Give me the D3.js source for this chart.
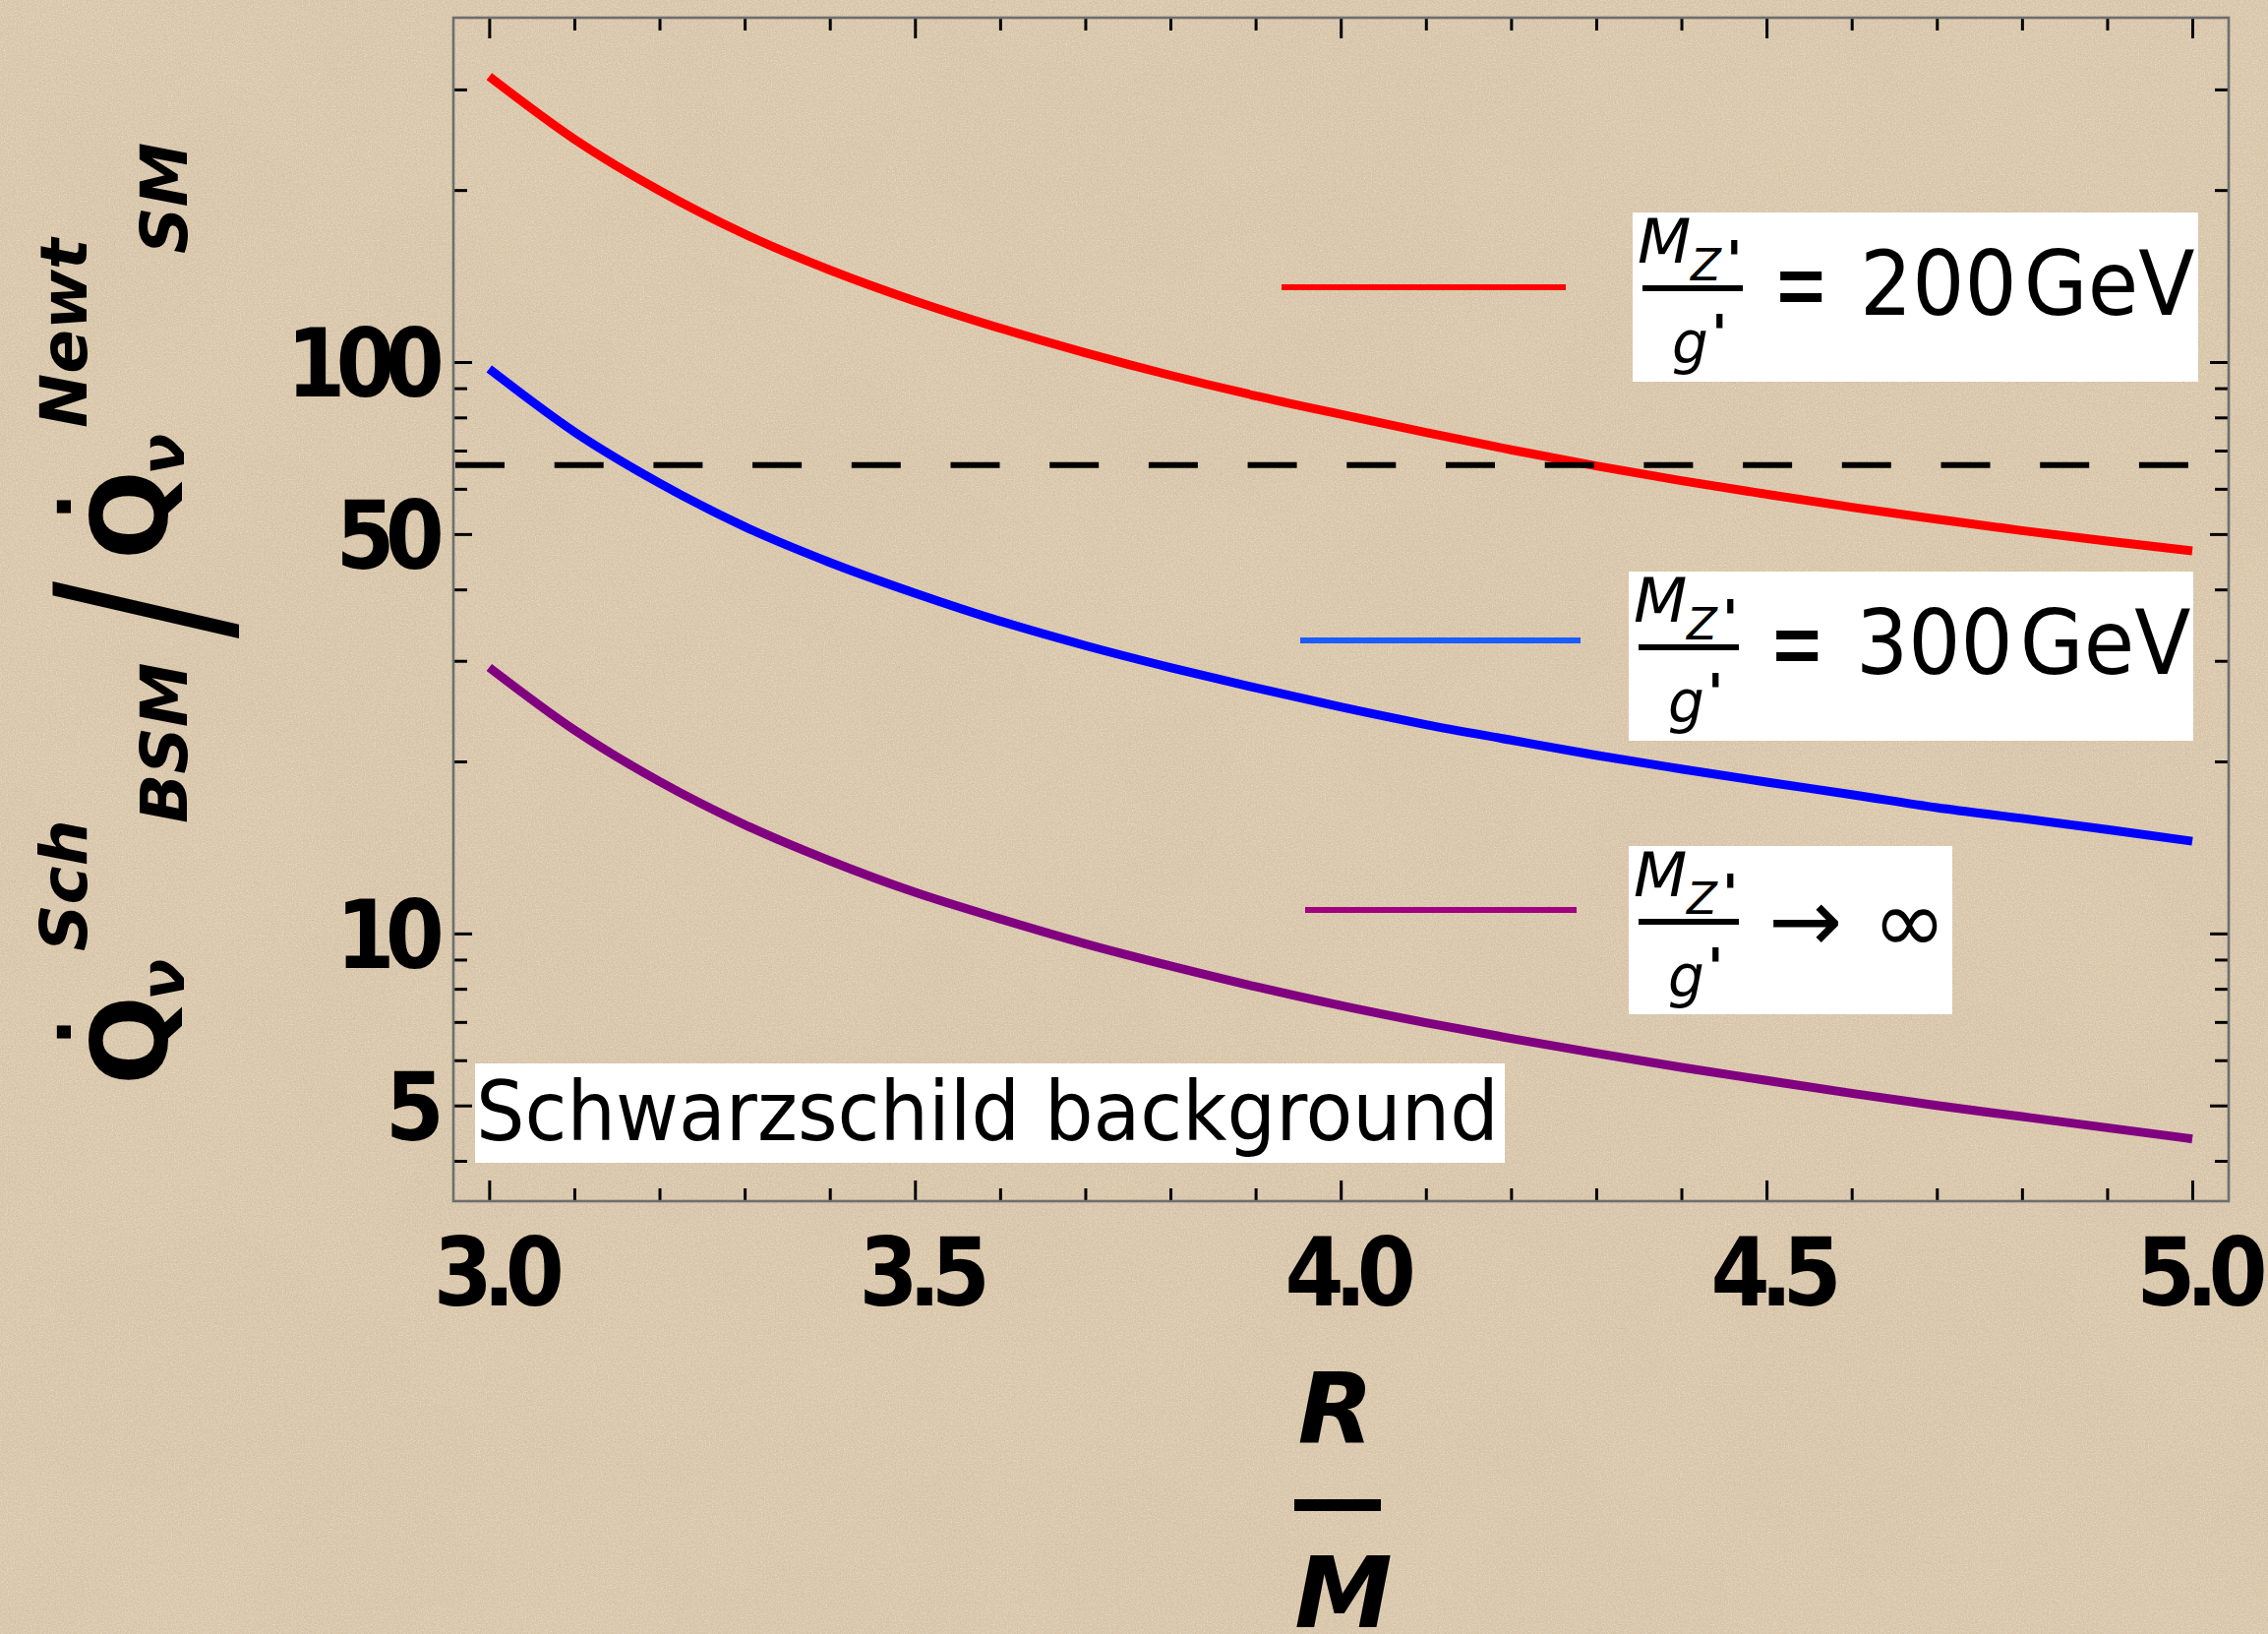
<!DOCTYPE html>
<html>
<head>
<meta charset="utf-8">
<script src="https://cdn.jsdelivr.net/npm/d3@7"></script>
<style>
  html, body { margin: 0; padding: 0; background: #dac7ab; }
  svg { display: block; }
  text { font-family: "DejaVu Sans", sans-serif; fill: #000; }
</style>
</head>
<body>
<svg id="chart" width="2306" height="1661"></svg>
<script>
// ---- data: luminosity ratio vs compactness R/M (Schwarzschild background) ----
const rOverM = [3.0, 3.1, 3.2, 3.3, 3.4, 3.5, 3.6, 3.7, 3.8, 3.9, 4.0,
                4.1, 4.2, 4.3, 4.4, 4.5, 4.6, 4.7, 4.8, 4.9, 5.0];
const ratio200GeV = [316, 245.5, 199.5, 167.5, 144.9, 127.9, 114.6, 103.8, 94.8, 87.3, 81.0,
                     75.3, 70.2, 65.8, 62.0, 58.7, 55.7, 53.1, 50.7, 48.6, 46.7];
const ratio300GeV = [97.3, 75.5, 61.4, 51.5, 44.6, 39.4, 35.2, 31.9, 29.2, 26.9, 24.9,
                     23.2, 21.8, 20.5, 19.4, 18.4, 17.5, 16.6, 15.9, 15.2, 14.5];
const ratioInfinite = [29.2, 22.7, 18.45, 15.5, 13.4, 11.8, 10.6, 9.59, 8.77, 8.07, 7.48,
                       6.98, 6.55, 6.17, 5.83, 5.53, 5.25, 5.00, 4.78, 4.57, 4.37];
const referenceLevel = 66;

const seriesValues = [ratio200GeV, ratio300GeV, ratioInfinite];
const seriesColors = ["#ff0000", "#0000ff", "#800080"];
const legendColors = ["#ff0000", "#1a5cff", "#a0007f"];
const legendValues = ["200 GeV", "300 GeV", null];

const xMajorTicks = [3.0, 3.5, 4.0, 4.5, 5.0];
const xMinorTicks = [3.1, 3.2, 3.3, 3.4, 3.6, 3.7, 3.8, 3.9, 4.1, 4.2, 4.3, 4.4, 4.6, 4.7, 4.8, 4.9];
const xTickLabels = ["3.0", "3.5", "4.0", "4.5", "5.0"];
const yMajorTicks = [5, 10, 50, 100];
const yMinorTicks = [4, 6, 7, 8, 9, 20, 30, 40, 60, 70, 80, 90, 200, 300];
const yTickLabels = ["5", "10", "50", "100"];

// ---- layout ----
const frame = { left: 461, right: 2266, top: 18, bottom: 1221 };
const svg = d3.select("#chart");

const x = d3.scaleLinear().domain([2.958, 5.0427]).range([frame.left, frame.right]);
const y = d3.scaleLog().domain([3.40, 400.5]).range([frame.bottom, frame.top]);

// ---- paper background ----
const defs = svg.append("defs");
function noiseFilter(id, freq, octaves, seed, matrix) {
  const f = defs.append("filter").attr("id", id)
    .attr("x", 0).attr("y", 0).attr("width", "100%").attr("height", "100%");
  f.append("feTurbulence").attr("type", "fractalNoise").attr("baseFrequency", freq)
    .attr("numOctaves", octaves).attr("seed", seed).attr("result", "n");
  f.append("feColorMatrix").attr("in", "n").attr("type", "matrix").attr("values", matrix);
}
noiseFilter("mottle", 0.004, 3, 7, "0 0 0 0 0.78  0 0 0 0 0.66  0 0 0 0 0.45  0.55 0 0 0 -0.22");
noiseFilter("grain", 0.85, 2, 4, "0 0 0 0 0.5  0 0 0 0 0.42  0 0 0 0 0.28  1.0 0 0 0 -0.42");
noiseFilter("speck", 0.7, 1, 11, "0 0 0 0 0.97  0 0 0 0 0.94  0 0 0 0 0.88  0.9 0 0 0 -0.42");

svg.append("rect").attr("width", 2306).attr("height", 1661).attr("fill", "#dbc8ad");
["mottle", "grain", "speck"].forEach(id =>
  svg.append("rect").attr("width", 2306).attr("height", 1661).attr("filter", `url(#${id})`));

// ---- clip for the plot region ----
defs.append("clipPath").attr("id", "plotClip").append("rect")
  .attr("x", frame.left).attr("y", frame.top)
  .attr("width", frame.right - frame.left).attr("height", frame.bottom - frame.top);

// ---- curves ----
const line = d3.line().curve(d3.curveMonotoneX);
const plot = svg.append("g").attr("clip-path", "url(#plotClip)");

seriesValues.forEach((vals, i) => {
  plot.append("path")
    .attr("d", line(rOverM.map((r, k) => [x(r), y(vals[k])])))
    .attr("fill", "none")
    .attr("stroke", seriesColors[i])
    .attr("stroke-width", 9)
    .attr("stroke-linecap", "butt")
    .attr("stroke-linejoin", "round");
});

// dashed reference level
plot.append("line")
  .attr("x1", frame.left + 2).attr("x2", frame.right)
  .attr("y1", y(referenceLevel)).attr("y2", y(referenceLevel))
  .attr("stroke", "#000").attr("stroke-width", 6)
  .attr("stroke-dasharray", "50 50.7");

// ---- frame and ticks ----
function styleAxis(g) {
  g.select(".domain").remove();
  g.selectAll(".tick line").attr("stroke", "#000").attr("stroke-width", 3);
  g.selectAll(".tick text").remove();
}
const axes = svg.append("g");
axes.append("g").attr("transform", `translate(0,${frame.bottom})`)
  .call(d3.axisBottom(x).tickValues(xMajorTicks).tickSize(-21)).call(styleAxis);
axes.append("g").attr("transform", `translate(0,${frame.bottom})`)
  .call(d3.axisBottom(x).tickValues(xMinorTicks).tickSize(-13)).call(styleAxis);
axes.append("g").attr("transform", `translate(0,${frame.top})`)
  .call(d3.axisTop(x).tickValues(xMajorTicks).tickSize(-21)).call(styleAxis);
axes.append("g").attr("transform", `translate(0,${frame.top})`)
  .call(d3.axisTop(x).tickValues(xMinorTicks).tickSize(-13)).call(styleAxis);
axes.append("g").attr("transform", `translate(${frame.left},0)`)
  .call(d3.axisLeft(y).tickValues(yMajorTicks).tickSize(-19)).call(styleAxis);
axes.append("g").attr("transform", `translate(${frame.left},0)`)
  .call(d3.axisLeft(y).tickValues(yMinorTicks).tickSize(-14)).call(styleAxis);
axes.append("g").attr("transform", `translate(${frame.right},0)`)
  .call(d3.axisRight(y).tickValues(yMajorTicks).tickSize(-19)).call(styleAxis);
axes.append("g").attr("transform", `translate(${frame.right},0)`)
  .call(d3.axisRight(y).tickValues(yMinorTicks).tickSize(-14)).call(styleAxis);

svg.append("rect")
  .attr("x", frame.left).attr("y", frame.top)
  .attr("width", frame.right - frame.left).attr("height", frame.bottom - frame.top)
  .attr("fill", "none").attr("stroke", "#6e6e6e").attr("stroke-width", 2.6);

// ---- tick labels ----
const tickFont = { size: 96, squeeze: 0.9, spacing: -11 };
xMajorTicks.forEach((v, i) => {
  svg.append("text")
    .attr("transform", `translate(${x(v) + 5},1327) scale(${tickFont.squeeze},1)`)
    .attr("text-anchor", "middle")
    .attr("font-size", tickFont.size).attr("font-weight", "bold")
    .attr("letter-spacing", tickFont.spacing)
    .text(xTickLabels[i]);
});
yMajorTicks.forEach((v, i) => {
  svg.append("text")
    .attr("transform", `translate(442,${y(v) + 35}) scale(${tickFont.squeeze},1)`)
    .attr("text-anchor", "end")
    .attr("font-size", tickFont.size).attr("font-weight", "bold")
    .attr("letter-spacing", tickFont.spacing)
    .text(yTickLabels[i]);
});

// ---- x axis label: R / M ----
const xLab = svg.append("g");
xLab.append("text").attr("x", 1358).attr("y", 1467).attr("text-anchor", "middle")
  .attr("font-size", 100).attr("font-weight", "bold").attr("font-style", "italic").text("R");
xLab.append("line").attr("x1", 1316).attr("x2", 1404).attr("y1", 1530).attr("y2", 1530)
  .attr("stroke", "#000").attr("stroke-width", 12);
xLab.append("text").attr("x", 1366).attr("y", 1654).attr("text-anchor", "middle")
  .attr("font-size", 100).attr("font-weight", "bold").attr("font-style", "italic").text("M");

// ---- y axis label: Qdot_nu^Sch_BSM / Qdot_nu^Newt_SM (rotated) ----
const yLab = svg.append("g").attr("transform", "translate(170,1110) rotate(-90)")
  .attr("font-weight", "bold");
function qDot(g, x0, sup, sub, supX, subX) {
  g.append("text").attr("x", x0).attr("y", 0).attr("font-size", 107).text("Q");
  g.append("text").attr("x", x0 + 54).attr("y", -98).attr("text-anchor", "middle")
    .attr("font-size", 75).text(".");
  g.append("text").attr("x", x0 + 86).attr("y", 17).attr("font-size", 62)
    .attr("font-style", "italic").text("ν");
  g.append("text").attr("x", supX).attr("y", -82).attr("font-size", 66)
    .attr("font-style", "italic").text(sup);
  g.append("text").attr("x", subX).attr("y", 20).attr("font-size", 66)
    .attr("font-style", "italic").text(sub);
}
qDot(yLab, 7, "Sch", "BSM", 143, 273);
yLab.append("text").attr("transform", "translate(490,52) scale(0.75,1)")
  .attr("text-anchor", "middle").attr("font-weight", "normal")
  .attr("font-size", 230).text("/");
qDot(yLab, 541, "Newt", "SM", 675, 852);

// ---- annotation ----
svg.append("rect").attr("x", 483).attr("y", 1081).attr("width", 1047).attr("height", 101)
  .attr("fill", "#fff");
svg.append("text").attr("transform", "translate(484,1159) scale(0.93,1)")
  .attr("font-size", 84).text("Schwarzschild background");

// ---- legend ----
const legendBoxes = [
  { x: 1660, y: 216, w: 575, h: 172 },
  { x: 1656, y: 581, w: 574, h: 172 },
  { x: 1656, y: 860, w: 329, h: 171 }
];
const legendLines = [
  { x1: 1303, x2: 1592, y: 292 },
  { x1: 1322, x2: 1607, y: 651 },
  { x1: 1327, x2: 1603, y: 925 }
];
legendBoxes.forEach((b, i) => {
  const ll = legendLines[i];
  svg.append("line").attr("x1", ll.x1).attr("x2", ll.x2).attr("y1", ll.y).attr("y2", ll.y)
    .attr("stroke", legendColors[i]).attr("stroke-width", 6);

  const g = svg.append("g").attr("transform", `translate(${b.x},${b.y})`);
  g.append("rect").attr("width", b.w).attr("height", b.h).attr("fill", "#fff");
  // fraction M_Z' / g'
  g.append("text").attr("x", 5).attr("y", 51).attr("font-size", 63)
    .attr("font-style", "italic").text("M");
  g.append("text").attr("x", 59).attr("y", 69).attr("font-size", 45)
    .attr("font-style", "italic").text("Z");
  g.append("text").attr("x", 95).attr("y", 67).attr("font-size", 54)
    .attr("font-weight", "bold").text("'");
  g.append("line").attr("x1", 10).attr("x2", 112).attr("y1", 77).attr("y2", 77)
    .attr("stroke", "#000").attr("stroke-width", 6);
  g.append("text").attr("x", 40).attr("y", 153).attr("font-size", 58)
    .attr("font-style", "italic").text("g");
  g.append("text").attr("x", 80).attr("y", 142).attr("font-size", 54)
    .attr("font-weight", "bold").text("'");

  if (legendValues[i] !== null) {
    g.append("text").attr("transform", "translate(143,110) scale(1.05,1.7)")
      .attr("font-size", 64).text("=");
    g.append("text").attr("transform", "translate(231,104) scale(0.93,1)")
      .attr("font-size", 90).style("word-spacing", "-21px")
      .text(legendValues[i]);
  } else {
    g.append("text").attr("x", 142).attr("y", 107).attr("font-size", 90).text("→");
    g.append("text").attr("x", 248).attr("y", 108).attr("font-size", 90).text("∞");
  }
});
</script>
</body>
</html>
